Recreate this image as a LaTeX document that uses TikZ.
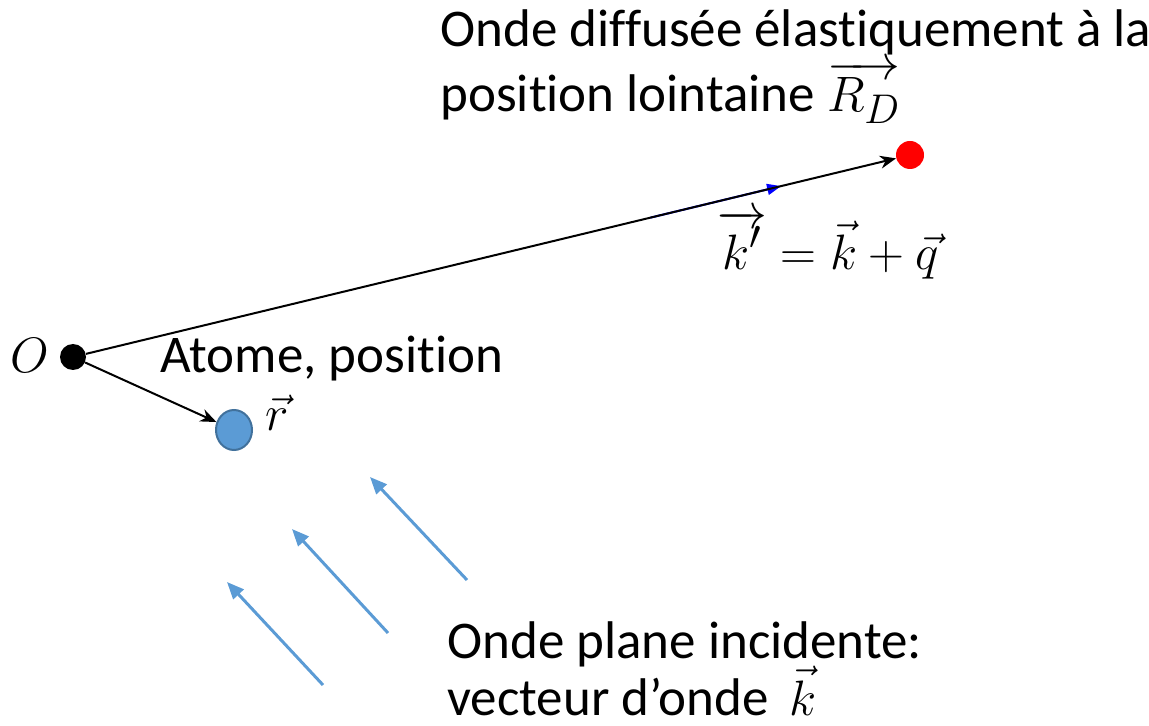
\documentclass[tikz,border=0pt]{standalone}
\usepackage{fontspec}
\setmainfont[Ligatures=NoCommon]{Carlito}
\usetikzlibrary{arrows.meta,calc,shapes.geometric}
\definecolor{atomblue}{HTML}{5B9BD5}
\definecolor{atomedge}{HTML}{41719C}
\begin{document}
\begin{tikzpicture}[x=0.5pt,y=-0.5pt,
  txt/.style={anchor=base west, inner sep=0pt, font=\fontsize{26.5}{32}\selectfont},
  mth/.style={inner sep=0pt, font=\fontsize{29}{34}\selectfont},
  dot/.style={circle, inner sep=0pt},
  blackarrow/.style={draw=black, line width=1pt, -{Stealth[length=8pt,width=6.5pt]}},
  incident/.style={draw=atomblue, line width=1.5pt, -{Triangle[length=8.5pt,width=7pt]}},
  kprime/.style={draw=blue, line width=1pt, -{Triangle[length=7pt,width=5.5pt]}}]
\useasboundingbox (0,0) rectangle (1149,726);
% points
\node[dot, fill=black, minimum size=13pt] (O) at (73,357) {};
\node[dot, fill=red, minimum size=14pt] (R) at (910,155) {};
\node[ellipse, draw=atomedge, line width=1pt, fill=atomblue, minimum width=18pt, minimum height=20pt, inner sep=0pt] (atom) at (234,430) {};
% blue k' segment on the line
\coordinate (ks) at ($(O)!0.69!(R)$);
\coordinate (ke) at ($(O)!0.846!(R)$);
\draw[kprime] (ks) -- (ke);
% black vectors
\draw[blackarrow] (O) -- (R);
\draw[blackarrow] (O) -- (atom);
% labels
\node[mth] (Olab) at (30,355) {$O$};
\node[mth] (rlab) at (277,413) {$\vec{r}$};
\node[mth, anchor=base west] (eq) at (717,270) {$\overrightarrow{k'} = \vec{k} + \vec{q}$};
\node[txt] (top1) at (440,47) {Onde diffusée élastiquement à la};
\node[txt] (top2) at (440,112) {position lointaine {\fontsize{29}{34}\selectfont$\overrightarrow{R_D}$}};
\node[txt] (atome) at (160,372) {Atome, position};
\node[txt] (bot1) at (447,658) {Onde plane incidente:};
\node[txt] (bot2) at (447,715) {vecteur d’onde \,{\fontsize{29}{34}\selectfont$\vec{k}$}};
% incident wave arrows
\coordinate (a1s) at (323,685); \coordinate (a1e) at (227,582);
\coordinate (a2s) at (388,633); \coordinate (a2e) at (292,529);
\coordinate (a3s) at (467,580); \coordinate (a3e) at (370,477);
\draw[incident] (a1s) -- (a1e);
\draw[incident] (a2s) -- (a2e);
\draw[incident] (a3s) -- (a3e);
\end{tikzpicture}
\end{document}
